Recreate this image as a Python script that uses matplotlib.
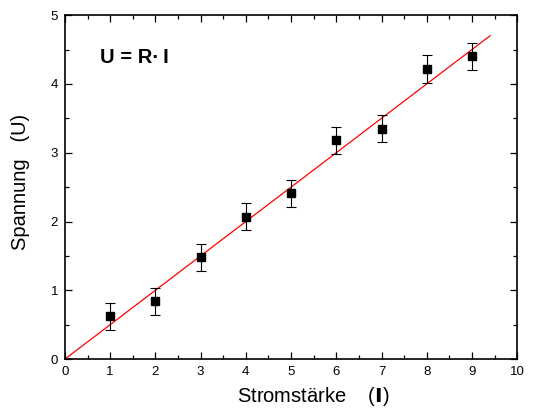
import matplotlib
matplotlib.use('Agg')
import matplotlib.pyplot as plt
from matplotlib.ticker import MultipleLocator

plt.rcParams['font.family'] = ['Liberation Sans', 'DejaVu Sans']

# Messwerte
strom = [1, 2, 3, 4, 5, 6, 7, 8, 9]
spannung = [0.62, 0.84, 1.48, 2.07, 2.41, 3.18, 3.35, 4.22, 4.40]
fehler = [0.2, 0.2, 0.2, 0.2, 0.2, 0.2, 0.2, 0.2, 0.2]

# Ausgleichsgerade U = R * I
widerstand = 0.5
fit_x = [0, 9.4]
fit_y = [widerstand * x for x in fit_x]


def main():
    fig = plt.figure(figsize=(5.41, 4.09), dpi=100)
    ax = fig.add_axes([0.120, 0.122, 0.836, 0.841])

    ax.plot(fit_x, fit_y, color='red', lw=0.9, zorder=2)
    ax.errorbar(strom, spannung, yerr=fehler, fmt='s', color='black',
                ms=6, capsize=3.5, elinewidth=0.8, capthick=0.8, zorder=3)

    ax.set_xlim(0, 10)
    ax.set_ylim(0, 5)
    ax.xaxis.set_major_locator(MultipleLocator(1))
    ax.xaxis.set_minor_locator(MultipleLocator(0.5))
    ax.yaxis.set_major_locator(MultipleLocator(1))
    ax.yaxis.set_minor_locator(MultipleLocator(0.5))
    ax.tick_params(which='both', direction='in', top=True, right=True,
                   labelsize=9.5, width=0.9)
    ax.tick_params(which='major', length=5, pad=5)
    ax.tick_params(which='minor', length=3)
    for s in ax.spines.values():
        s.set_linewidth(1.2)

    ax.set_xlabel('Stromstärke    ($\\mathbf{I}$)', fontsize=14.5)
    ax.xaxis.set_label_coords(0.549, -0.074)
    ax.set_ylabel('Spannung   (U)', fontsize=14.5)
    ax.yaxis.set_label_coords(-0.078, 0.515)
    ax.text(0.77, 4.38, 'U = R\u00b7\u2009I', fontsize=14.5,
            fontweight='bold', va='center')

    fig.savefig('out.png', dpi=100)


if __name__ == '__main__':
    main()
